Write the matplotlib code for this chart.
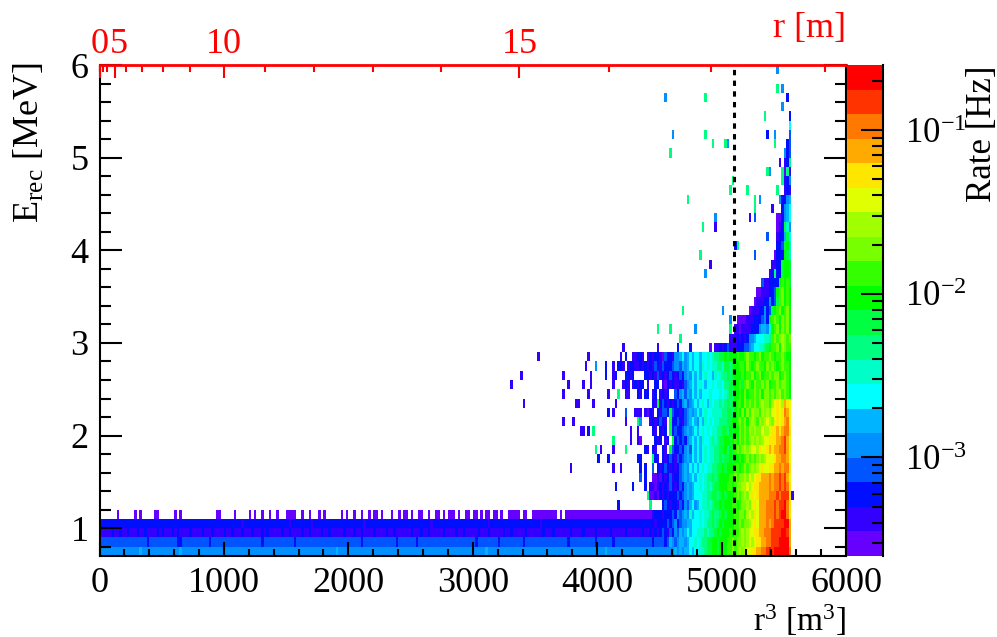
import numpy as np
import matplotlib
matplotlib.use('Agg')
import matplotlib.pyplot as plt
from matplotlib.colors import ListedColormap, LogNorm
from matplotlib.ticker import FixedLocator, LogLocator, NullFormatter
from matplotlib.transforms import ScaledTranslation

plt.rcParams['font.family'] = ['Liberation Serif', 'DejaVu Serif']
plt.rcParams['mathtext.fontset'] = 'custom'
plt.rcParams['mathtext.rm'] = 'Liberation Serif'
plt.rcParams['mathtext.it'] = 'Liberation Serif:italic'
plt.rcParams['mathtext.bf'] = 'Liberation Serif:bold'

# palette of the z axis, low to high, one letter per band in the rows below
band_colors = ['#6600ff', '#3300ff', '#0010ff', '#0055ff', '#0090ff',
               '#00b4ff', '#00ffff', '#00ffc8', '#00ff80', '#00ff40',
               '#00ff00', '#33ff00', '#77ff00', '#a0ff00', '#e0ff00',
               '#ffe600', '#ffaa00', '#ff7800', '#ff3300', '#ff0000']
band_letters = 'abcdefghijklmnopqrst'

rate_min = 2.5e-4
rate_max = 0.25
r3_bin = 20
n_r3_bins = 300
e_bin = 0.1
e_min = 0.7
n_e_bins = 53

# rows, each one ends at r3 = 5560, '.' is an empty bin
upper_e = [5.0, 4.9, 4.8, 4.7, 4.6, 4.5, 4.4, 4.3, 4.2, 4.1, 4.0, 3.9, 3.8,
           3.7, 3.6, 3.5, 3.4, 3.3, 3.2, 3.1, 3.0]
upper_rows = ['ecd', 'b.bci', 'iaib', 'ibce', 'bcb', 'eccef', 'cefg', 'aacefg',
              'abcjhe', 'bccfjg', 'ccdjkh', 'accckjh', 'bbccjkkj', 'bciccjkkj',
              'dbbccccklklj', 'aabbbccdklmklk', 'abbbccecdjlmklk',
              'abbbccecdjklmklmk', 'aaaabbbcccdecklmlkmlmk',
              'bbabbbbccceffehklmkmlmk', 'bbbcbcbceefggghhilmlmnmlm']

middle_e = [2.9, 2.8, 2.7, 2.6, 2.5, 2.4, 2.3, 2.2, 2.1, 2.0, 1.9, 1.8, 1.7,
            1.6, 1.5, 1.4, 1.3, 1.2]
middle_rows = [
    'a.bbcbcdbbbcccddefgghhijkllmknmll',
    'cb.bcbccbadccb' 'eefgefg' 'fggfgghghi' 'ijjkjkk' 'klkklmllklmkllml' 'kllmlkk',
    'cbcbcbdcbdcccd' 'eedfefg' 'fggfhghghh' 'iihjjij' 'kkllkmlklmllkmlm' 'lklmllk',
    '..ccbcbdbcbcdc' 'bcdcefe' 'gfgfghggfh' 'ghiijij' 'kkklkllmklmkllml' 'mmklmlk',
    'cc.b..cc.bacbc' 'bbcbdef' 'gfghgfgghg' 'hhgiijj' 'kkljlmlkmllmlmkl' 'lmlmmlk',
    'b.cc.bc.bcbc..' 'dcefdfe' 'gfgfggghgg' 'ghghiji' 'kklkmkllmlmkmmlm' 'lmnlmlk',
    '.....cbjcdcbcb' 'cdcefde' 'fgfghgfhgh' 'hihijij' 'kllkmlmlmlmnmmln' 'oponqpo',
    'b.bacb.cbddcjd' 'ccbcdef' 'efgfghgghh' 'hhiijji' 'klkmkmlnmmlnmnmo' 'opoprqo',
    'e...bcbcdcb.jc' 'cdcbdef' 'gfegfhghgh' 'hiiijjk' 'klmlmkmnmlnmnonm' 'opopqro',
    '.....cb.cbc.jc' 'dccdefe' 'fgfghghghh' 'iijjikj' 'kkmlmlnmnmmonnop' 'pqpqrrp',
    'a.....cbc.bc.j' 'cdcdcef' 'gfgfhgghih' 'ijjkkjk' 'lkmlmlmnmnmnoopp' 'pqqrsqo',
    '..cb.cb..cb.jd' 'ccdcefd' 'gfgfghghhi' 'ijjkikj' 'lmlmnmnoonpoopqp' 'qqrrsqo',
    'c....icb.cbcdc' 'bdcd' 'efegfg' 'fghgh' 'hiijijj' 'kjkklk' 'lmlml' 'mnmnoo' 'opqqr' 'rqo',
    'c.c..d.cbcdcbc' 'bcd' 'efegfgf' 'ghghh' 'iijjkjk' 'kkllkl' 'mlmnm' 'nopoop' 'pqqrq' 'rrp',
    'd.c..aabacbcdb' 'ccdefe' 'fgfghg' 'hiiji' 'jkkkkl' 'lmlmm' 'nmono' 'ppqqqr' 'qrrsrs' 'qo',
    '..c.bbabcbcbdc' 'bcdce' 'fefg' 'ghghih' 'ijjkk' 'kllklm' 'mnnon' 'opp' 'qqqqrq' 'rrsrs' 'rp',
    '...iaabacbcbcc' 'cdcd' 'efefg' 'gghh' 'iijjij' 'kjkkk' 'lmlmnm' 'opop' 'qqqq' 'rrrsrsss' 'p',
    '....i....cdcbc' 'cbdced' 'fgef' 'ghhih' 'ijjkj' 'kkkllk' 'lmmnm' 'opo' 'qqqr' 'rrsrss' 'trp']

# bins from r3 = 4340 up for the bottom rows, to the left only the fill below
bottom_e = [1.1, 1.0, 0.9, 0.8, 0.7]
bottom_rows = [
    'aaaaa' 'bcccbcc' 'cdcede' 'fehfg' 'ghghh' 'ijiij' 'kjkkkl' 'lmmln' 'onpo' 'qqqr' 'rrsrst' 'trp',
    'ccccccbccccd' 'cdecde' 'effg' 'gghgh' 'iijij' 'kjkkkk' 'llmlmm' 'nopo' 'qqqrq' 'rsssstt' 'q',
    'bcbbcbcbc' 'dcbdc' 'edfef' 'gfggh' 'hhihii' 'jkjkkk' 'lkll' 'mnmno' 'oppq' 'qrrrs' 'ssstts' 'q',
    'dddddcddddcd' 'fed' 'effef' 'gghg' 'hiij' 'jkkjkkkl' 'lmlmm' 'nmnon' 'opp' 'qqrrs' 'ssttt' 'tq',
    'eeeeeeeeeeeeee' 'fefeff' 'gfgg' 'hhij' 'jkkjkk' 'kllmlm' 'nmno' 'opp' 'qqrr' 'stst' 'ttttt' 'r']
bottom_fill = ['', 'c', 'b', 'd', 'e']
# r3 of the single lighter or darker stripes inside the fill
stripes_10 = [1140, 1520, 1700, 2120, 2660, 3120, 3540]
stripes_09 = [100, 160, 220, 300, 360, 460, 500, 580, 620, 720, 820, 900, 1000,
              1060, 1140, 1220, 1300, 1340, 1460, 1520, 1620, 1680, 1780, 1840,
              1960, 2040, 2100, 2200, 2300, 2360, 2500, 2580, 2640, 2760, 2860,
              2920, 3040, 3120, 3240, 3300, 3420, 3560, 3640, 3780, 3880, 3980,
              4100, 4220]
stripes_08 = [380, 620, 640, 880, 1300, 1560, 2100, 2380, 2540, 3020, 3200,
              3400, 3760, 3980, 4120]
stripes_07 = [320, 640, 1900, 3100, 4060]
# r3 stretches of the violet 1.1-1.2 MeV row left of the full part
violet_runs = [(140, 160), (280, 300), (320, 340), (440, 480), (600, 620),
               (640, 660), (940, 980), (1080, 1100), (1200, 1220),
               (1240, 1260), (1300, 1320), (1360, 1380), (1420, 1440),
               (1500, 1580), (1620, 1640), (1680, 1700), (1760, 1780),
               (1800, 1820), (1940, 1960), (1980, 2000), (2040, 2060),
               (2100, 2120), (2160, 2180), (2200, 2240), (2260, 2280),
               (2340, 2360), (2400, 2420), (2440, 2480), (2500, 2520),
               (2560, 2600), (2640, 2660), (2700, 2740), (2760, 2780),
               (2800, 2860), (2880, 2900), (2940, 2980), (3000, 3040),
               (3060, 3080), (3100, 3140), (3160, 3200), (3220, 3240),
               (3280, 3380), (3400, 3440), (3480, 3680), (3700, 3720),
               (3740, 4340)]

# isolated bins: energy, r3, band
stray_bins = [
    (5.9, 5440, 'e'), (5.7, 5440, 'i'), (5.7, 5480, 'e'), (5.6, 4540, 'e'),
    (5.6, 4860, 'i'), (5.6, 5520, 'c'), (5.5, 5480, 'e'), (5.4, 5340, 'i'),
    (5.4, 5540, 'c'), (5.3, 5540, 'g'), (5.2, 4600, 'e'), (5.2, 4860, 'i'),
    (5.2, 5360, 'c'), (5.2, 5420, 'e'), (5.2, 5540, 'd'), (5.1, 4920, 'i'),
    (5.1, 5020, 'i'), (5.1, 5040, 'e'), (5.1, 5420, 'i'), (5.1, 5520, 'c'),
    (5.1, 5540, 'd'), (5.0, 4580, 'i'), (4.8, 5360, 'i'), (4.8, 5380, 'e'),
    (4.7, 5080, 'i'), (4.6, 5060, 'i'), (4.6, 5200, 'i'), (4.6, 5440, 'i'),
    (4.5, 4720, 'i'), (4.5, 5260, 'i'), (4.5, 5300, 'e'), (4.4, 5260, 'i'),
    (4.4, 5400, 'b'), (4.3, 4940, 'e'), (4.3, 5220, 'b'), (4.3, 5260, 'd'),
    (4.2, 4840, 'i'), (4.2, 4940, 'b'), (4.1, 5360, 'd'), (4.0, 5100, 'c'),
    (4.0, 5120, 'i'), (3.9, 4820, 'i'), (3.9, 5260, 'd'), (3.8, 4900, 'b'),
    (3.7, 4860, 'e'), (3.3, 4680, 'i'), (3.3, 5000, 'e'), (3.2, 5060, 'e'),
    (3.1, 4480, 'i'), (3.1, 4580, 'i'), (3.1, 4780, 'e'), (3.1, 5060, 'i'),
    (3.0, 4660, 'i'), (2.9, 4200, 'b'), (2.9, 4480, 'b'), (2.9, 4640, 'c'),
    (2.9, 4740, 'c'), (2.8, 3520, 'b'), (2.8, 3920, 'b'), (2.8, 4180, 'b'),
    (2.8, 4220, 'c'), (2.8, 4280, 'b'), (2.8, 4300, 'b'), (2.8, 4320, 'c'),
    (2.7, 3900, 'b'), (2.7, 3980, 'e'), (2.7, 4060, 'c'), (2.7, 4120, 'b'),
    (2.7, 4160, 'c'), (2.7, 4180, 'c'), (2.7, 4200, 'b'), (2.7, 4240, 'b'),
    (2.7, 4260, 'c'), (2.7, 4280, 'c'), (2.7, 4300, 'b'), (2.7, 4320, 'b'),
    (2.6, 3380, 'b'), (2.6, 3720, 'b'), (2.6, 3940, 'b'), (2.6, 4060, 'c'),
    (2.6, 4120, 'b'), (2.6, 4140, 'c'), (2.6, 4220, 'c'), (2.6, 4240, 'c'),
    (2.6, 4260, 'b'), (2.6, 4280, 'c'), (2.5, 3300, 'b'), (2.5, 3760, 'b'),
    (2.5, 3880, 'b'), (2.5, 3940, 'b'), (2.5, 4120, 'b'), (2.5, 4200, 'b'),
    (2.5, 4220, 'c'), (2.5, 4240, 'b'), (2.5, 4280, 'b'), (2.5, 4300, 'c'),
    (2.5, 4320, 'b'), (2.4, 3720, 'b'), (2.4, 3920, 'b'), (2.4, 4080, 'b'),
    (2.4, 4160, 'i'), (2.4, 4220, 'b'), (2.4, 4240, 'b'), (2.4, 4320, 'c'),
    (2.3, 3400, 'b'), (2.3, 3820, 'b'), (2.3, 3840, 'b'), (2.3, 3960, 'b'),
    (2.3, 4140, 'b'), (2.2, 4080, 'c'), (2.2, 4120, 'b'), (2.2, 4220, 'd'),
    (2.2, 4300, 'b'), (2.2, 4320, 'b'), (2.1, 3720, 'b'), (2.1, 3800, 'b'),
    (2.1, 4220, 'b'), (2.1, 4320, 'i'), (2.0, 3860, 'b'), (2.0, 3880, 'b'),
    (2.0, 3920, 'c'), (2.0, 3960, 'i'), (2.0, 4260, 'b'), (2.0, 4320, 'b'),
    (1.9, 4120, 'i'), (1.9, 4260, 'b'), (1.9, 4320, 'b'), (1.8, 3980, 'i'),
    (1.8, 4020, 'b'), (1.8, 4120, 'b'), (1.8, 4220, 'i'), (1.7, 4000, 'c'),
    (1.7, 4080, 'c'), (1.7, 4320, 'c'), (1.6, 3780, 'b'), (1.6, 4120, 'b'),
    (1.6, 4180, 'b'), (1.4, 4140, 'c'), (1.4, 4280, 'c'), (1.3, 5560, 'b'),
    (1.2, 4160, 'c')]

r_major = [0, 5, 10, 15]
r_minor = [1, 2, 3, 4, 6, 7, 8, 9, 11, 12, 13, 14, 16, 17, 18]
e_ticks = [1, 2, 3, 4, 5, 6]
r3_ticks = [0, 1000, 2000, 3000, 4000, 5000, 6000]
rate_ticks = [1e-3, 1e-2, 1e-1]
fiducial_r3 = 5100


def band_rate(letter):
    # middle of the band on the log z axis
    band = band_letters.index(letter)
    return rate_min * (rate_max / rate_min) ** ((band + 0.5) / len(band_colors))


def e_index(e):
    return int(round((e - e_min) / e_bin))


rates = np.full((n_e_bins, n_r3_bins), np.nan)


def put_row(e, row):
    start = 278 - len(row)
    for i, letter in enumerate(row):
        if letter != '.':
            rates[e_index(e), start + i] = band_rate(letter)


for e, row in zip(upper_e, upper_rows):
    put_row(e, row)
for e, row in zip(middle_e, middle_rows):
    put_row(e, row)
for e, row, fill in zip(bottom_e, bottom_rows, bottom_fill):
    if fill:
        rates[e_index(e), :217] = band_rate(fill)
    put_row(e, row)
for start, stop in violet_runs:
    rates[e_index(1.1), start // r3_bin:stop // r3_bin] = band_rate('a')
for value in stripes_10:
    rates[e_index(1.0), value // r3_bin] = band_rate('b')
for value in stripes_09:
    rates[e_index(0.9), value // r3_bin] = band_rate('c')
for value in stripes_08:
    rates[e_index(0.8), value // r3_bin] = band_rate('c')
for value in stripes_07:
    rates[e_index(0.7), value // r3_bin] = band_rate('f')
for e, value, letter in stray_bins:
    rates[e_index(e), value // r3_bin] = band_rate(letter)

r3_edges = np.arange(n_r3_bins + 1) * r3_bin
e_edges = e_min + np.arange(n_e_bins + 1) * e_bin

W, H = 997, 637
fig = plt.figure(figsize=(W / 100, H / 100), dpi=100)
ax = fig.add_axes([99.5 / W, 1 - 556 / H, 746.5 / W, 491 / H])

mesh = ax.pcolormesh(r3_edges, e_edges, rates, cmap=ListedColormap(band_colors),
                     norm=LogNorm(vmin=rate_min, vmax=rate_max),
                     shading='flat', antialiased=False)
ax.plot([fiducial_r3, fiducial_r3], [e_min, 6], color='black', linewidth=2.2,
        linestyle=(0, (1.75, 1.75)), dash_capstyle='butt')

ax.set_xlim(0, 6000)
ax.set_ylim(e_min, 6)
ax.set_xticks(r3_ticks)
ax.set_yticks(e_ticks)
ax.xaxis.set_minor_locator(FixedLocator(np.arange(0, 6001, 200)))
ax.yaxis.set_minor_locator(FixedLocator(np.arange(0.8, 6.01, 0.2)))
ax.tick_params(axis='x', which='major', direction='in', length=10, width=1.5,
               labelsize=26, pad=8, top=False)
ax.tick_params(axis='x', which='minor', direction='in', length=5, width=1.5, top=False)
ax.tick_params(axis='y', which='major', direction='in', length=16, width=1.5,
               labelsize=26, pad=8, right=True)
ax.tick_params(axis='y', which='minor', direction='in', length=8, width=1.5, right=True)
for side in ax.spines:
    ax.spines[side].set_linewidth(1.5)
ax.spines['top'].set_visible(False)

# red radius scale on top, r3 axis underneath
top = ax.twiny()
top.set_xlim(0, 6000)
top.set_xticks(np.array(r_major) ** 3)
top.set_xticklabels([str(v) for v in r_major])
top.xaxis.set_minor_locator(FixedLocator(np.array(r_minor) ** 3))
top.tick_params(axis='x', which='major', direction='in', length=9.5, width=1.5,
                color='red', labelcolor='red', labelsize=26, pad=3)
top.tick_params(axis='x', which='minor', direction='in', length=5, width=1.5, color='red')
top.spines['top'].set_color('red')
top.spines['top'].set_linewidth(2)
for side in ['left', 'right', 'bottom']:
    top.spines[side].set_visible(False)
# the 0 and the 5 sit side by side in the original
five = top.get_xticklabels()[1]
five.set_transform(five.get_transform() + ScaledTranslation(3.5 / 100, 0, fig.dpi_scale_trans))

cax = fig.add_axes([846.5 / W, 1 - 556 / H, 36 / W, 491 / H])
cb = fig.colorbar(mesh, cax=cax)
cb.outline.set_visible(False)
cax.spines['right'].set_visible(True)
cax.spines['right'].set_linewidth(1.5)
cax.set_yticks(rate_ticks)
cax.set_yticklabels(['$10^{-3}$', '$10^{-2}$', '$10^{-1}$'])
cax.yaxis.set_minor_locator(LogLocator(base=10, subs=[2, 3, 4, 5, 6, 7, 8, 9]))
cax.yaxis.set_minor_formatter(NullFormatter())
cax.tick_params(axis='y', which='major', direction='in', length=16, width=1.5,
                labelsize=25, pad=16)
cax.tick_params(axis='y', which='minor', direction='in', length=8, width=1.5)

fig.text(30 / W, 1 - 62 / H, r'E$_{\mathrm{rec}}$ [MeV]', rotation=90, fontsize=26,
         ha='center', va='top')
fig.text(846 / W, 1 - 620 / H, r'r$^{3}$ [m$^{3}$]', fontsize=24, ha='right', va='center')
fig.text(846 / W, 1 - 28 / H, 'r [m]', color='red', fontsize=26, ha='right', va='center')
fig.text(982 / W, 1 - 65 / H, 'Rate [Hz]', rotation=90, fontsize=25, ha='center', va='top')

fig.savefig('out.png', dpi=100)
